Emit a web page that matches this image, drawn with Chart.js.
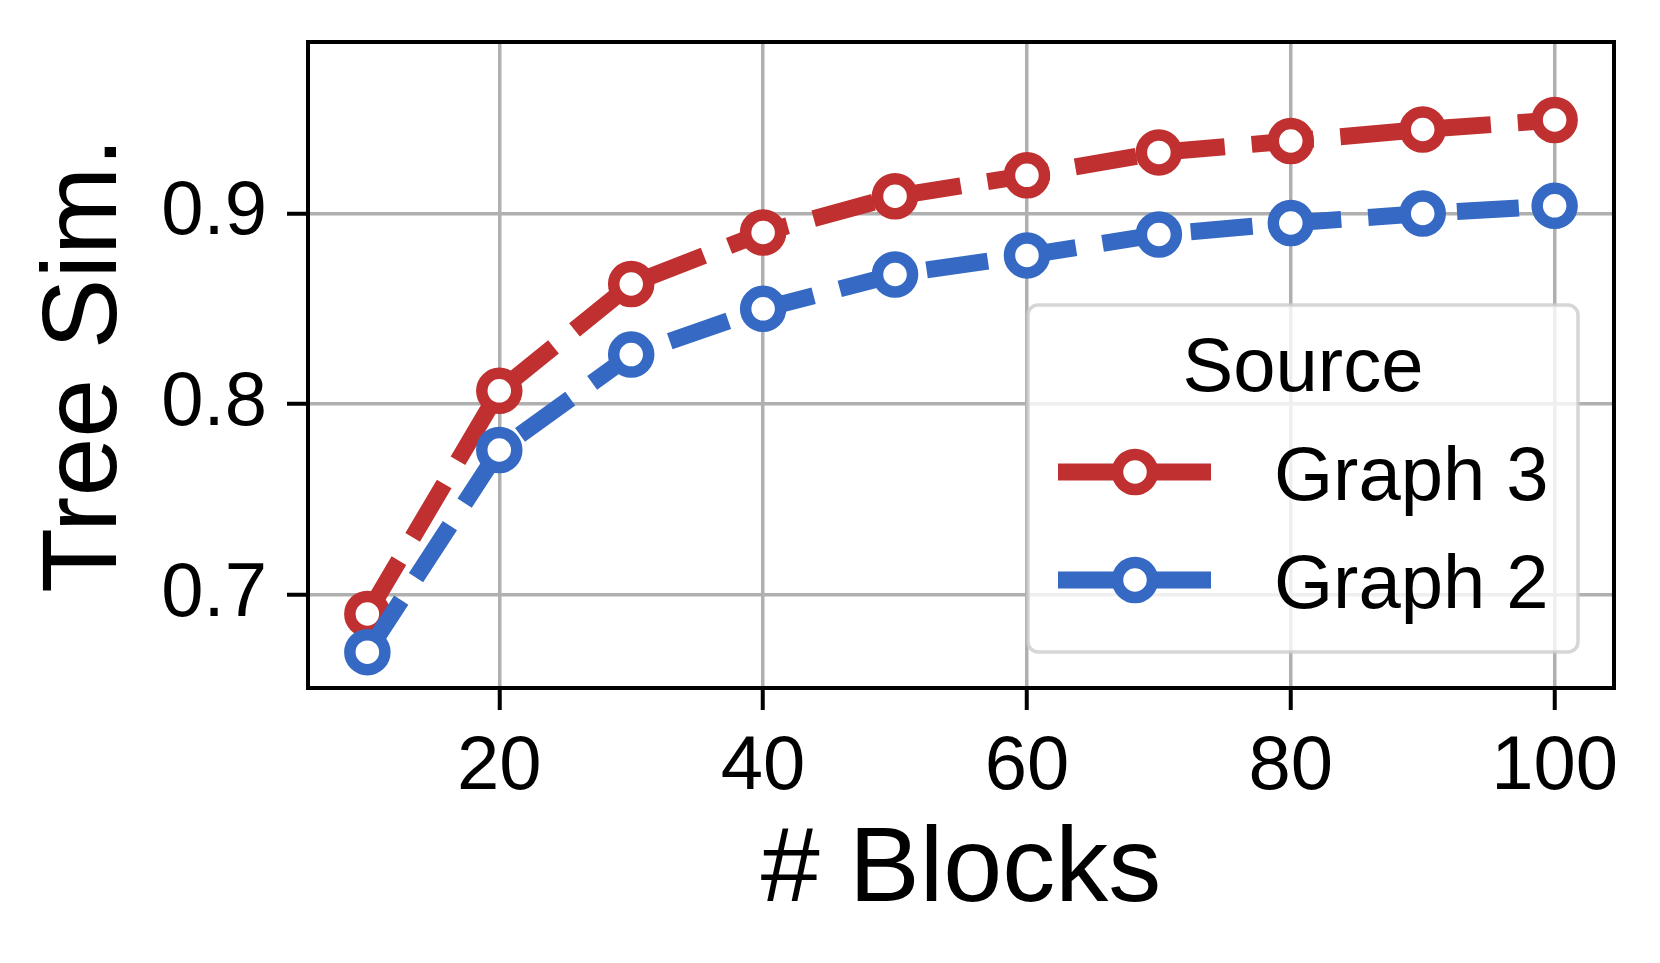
<!DOCTYPE html>
<html>
<head>
<meta charset="utf-8">
<script src="https://cdn.jsdelivr.net/npm/chart.js@4/dist/chart.umd.min.js"></script>
<style>
  html, body { margin: 0; padding: 0; background: #fff; }
  #wrap { width: 1660px; height: 963px; }
</style>
</head>
<body>
<div id="wrap"><canvas id="chart" width="1660" height="963"></canvas></div>
<script>
// data
var blocks = [10, 20, 30, 40, 50, 60, 70, 80, 90, 100];
var graph3 = [0.690, 0.807, 0.863, 0.890, 0.909, 0.920, 0.932, 0.938, 0.944, 0.949];
var graph2 = [0.670, 0.776, 0.826, 0.850, 0.868, 0.878, 0.889, 0.895, 0.900, 0.904];
var xTicks = [20, 40, 60, 80, 100];
var yTicks = [0.7, 0.8, 0.9];

var FONT = "'Liberation Sans', Arial, sans-serif";
var RED = '#c03030';
var BLUE = '#3569c3';

function toPoints(ys) {
  return blocks.map(function(x, i) { return { x: x, y: ys[i] }; });
}

function series(label, ys, color, order) {
  return {
    label: label,
    data: toPoints(ys),
    order: order,
    borderColor: color,
    borderWidth: 17,
    borderDash: [62, 27],
    borderCapStyle: 'butt',
    pointRadius: 17.5,
    pointBorderWidth: 11.5,
    pointBorderColor: color,
    pointBackgroundColor: '#fff',
    pointHoverRadius: 17.5,
    tension: 0,
    fill: false
  };
}

// frame round the plot area (top/right/bottom/left spines)
var framePlugin = {
  id: 'frame',
  afterDatasetsDraw: function(chart) {
    var a = chart.chartArea, ctx = chart.ctx;
    ctx.save();
    ctx.strokeStyle = '#000';
    ctx.lineWidth = 4;
    ctx.strokeRect(a.left, a.top, a.right - a.left, a.bottom - a.top);
    ctx.restore();
  }
};

// legend with title inside the plot, like matplotlib
var legendPlugin = {
  id: 'boxLegend',
  afterDraw: function(chart) {
    var ctx = chart.ctx;
    var x0 = 1028, y0 = 305, w = 550, h = 347, r = 10;
    ctx.save();
    ctx.beginPath();
    ctx.moveTo(x0 + r, y0);
    ctx.arcTo(x0 + w, y0, x0 + w, y0 + h, r);
    ctx.arcTo(x0 + w, y0 + h, x0, y0 + h, r);
    ctx.arcTo(x0, y0 + h, x0, y0, r);
    ctx.arcTo(x0, y0, x0 + w, y0, r);
    ctx.closePath();
    ctx.fillStyle = 'rgba(255,255,255,0.8)';
    ctx.fill();
    ctx.strokeStyle = 'rgba(204,204,204,0.8)';
    ctx.lineWidth = 3.5;
    ctx.stroke();

    ctx.fillStyle = '#000';
    ctx.font = '76px ' + FONT;
    ctx.textAlign = 'center';
    ctx.textBaseline = 'alphabetic';
    ctx.fillText('Source', x0 + w / 2, 391);

    var rows = [472, 580];
    chart.data.datasets.forEach(function(ds, i) {
      var y = rows[i];
      ctx.strokeStyle = ds.borderColor;
      ctx.lineWidth = ds.borderWidth;
      ctx.setLineDash([]);
      ctx.beginPath();
      ctx.moveTo(1058, y);
      ctx.lineTo(1211, y);
      ctx.stroke();
      ctx.beginPath();
      ctx.arc(1135, y, ds.pointRadius, 0, Math.PI * 2);
      ctx.fillStyle = '#fff';
      ctx.fill();
      ctx.lineWidth = ds.pointBorderWidth;
      ctx.stroke();
      ctx.fillStyle = '#000';
      ctx.textAlign = 'left';
      ctx.fillText(ds.label, 1274, y + 28);
    });
    ctx.restore();
  }
};

var config = {
  type: 'line',
  data: {
    datasets: [
      series('Graph 3', graph3, RED, 1),
      series('Graph 2', graph2, BLUE, 0)
    ]
  },
  options: {
    responsive: false,
    animation: false,
    events: [],
    layout: { padding: { left: 0, top: 42, right: 46, bottom: 0 } },
    plugins: {
      legend: { display: false },
      tooltip: { enabled: false }
    },
    scales: {
      x: {
        type: 'linear',
        min: 5.5,
        max: 104.5,
        afterBuildTicks: function(s) { s.ticks = xTicks.map(function(v) { return { value: v }; }); },
        afterFit: function(s) { s.height = 275; s.paddingLeft = 0; s.paddingRight = 0; },
        border: { display: false },
        grid: { color: '#b0b0b0', lineWidth: 3.5, tickLength: 22, tickColor: '#000', tickWidth: 4 },
        ticks: {
          color: '#000',
          font: { family: FONT, size: 76 },
          padding: 12,
          maxRotation: 0,
          callback: function(v) { return String(v); }
        },
        title: {
          display: true,
          text: '# Blocks',
          color: '#000',
          font: { family: FONT, size: 106, lineHeight: 1 },
          padding: { top: 0, bottom: 38 }
        }
      },
      y: {
        type: 'linear',
        min: 0.6512,
        max: 0.9899,
        afterBuildTicks: function(s) { s.ticks = yTicks.map(function(v) { return { value: v }; }); },
        afterFit: function(s) { s.width = 308; s.paddingTop = 0; s.paddingBottom = 0; },
        border: { display: false },
        grid: { color: '#b0b0b0', lineWidth: 3.5, tickLength: 21, tickColor: '#000', tickWidth: 4 },
        ticks: {
          color: '#000',
          font: { family: FONT, size: 76 },
          padding: 20,
          callback: function(v) { return v.toFixed(1); }
        },
        title: {
          display: true,
          text: 'Tree Sim.',
          color: '#000',
          font: { family: FONT, size: 106, lineHeight: 1 },
          padding: { top: 34, bottom: 0 }
        }
      }
    }
  },
  plugins: [framePlugin, legendPlugin]
};

var chart = new Chart(document.getElementById('chart').getContext('2d'), config);
</script>
</body>
</html>
